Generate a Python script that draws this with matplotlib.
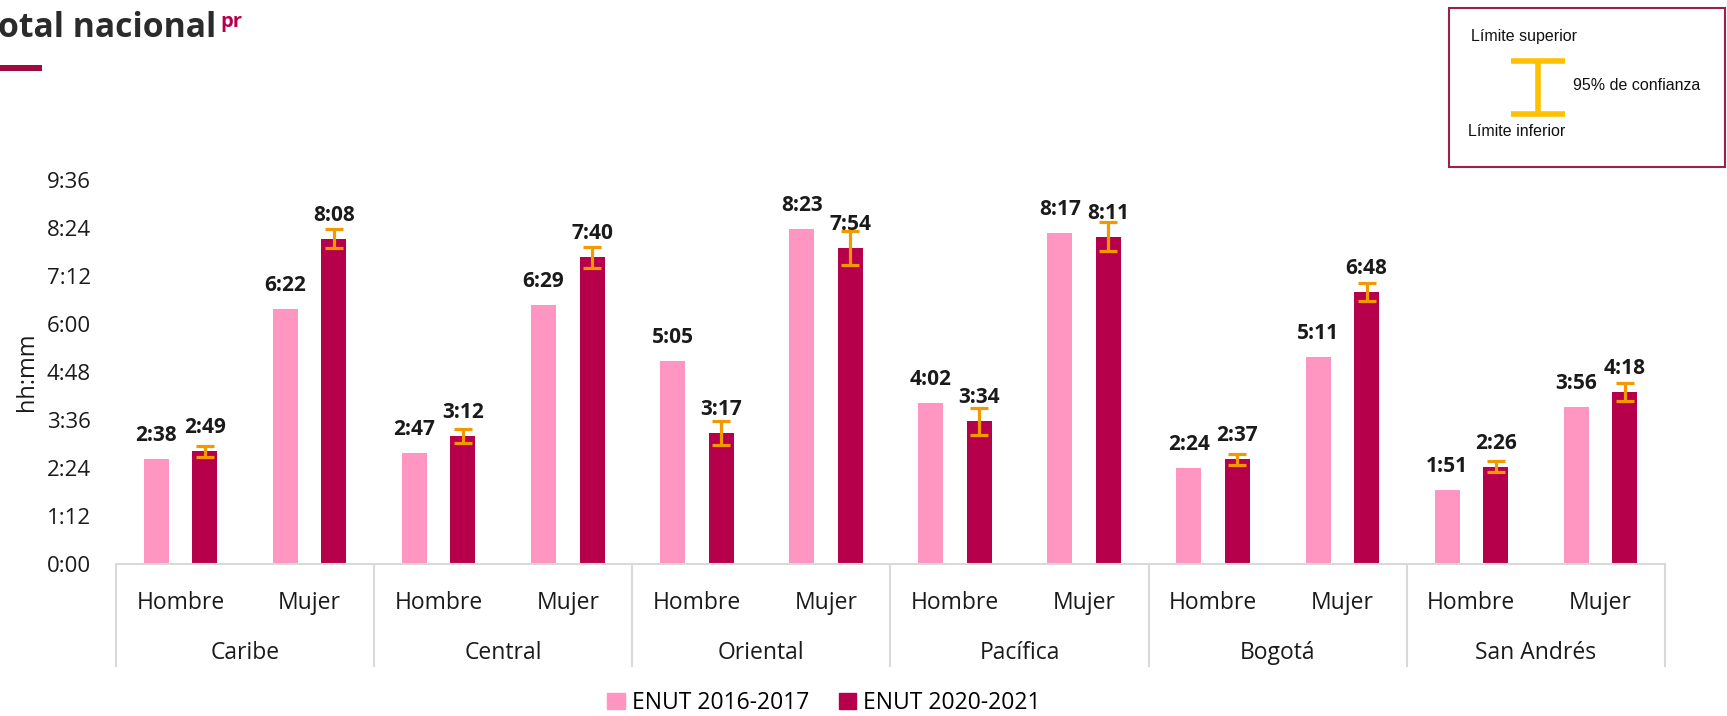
import matplotlib
matplotlib.use("Agg")
import matplotlib.pyplot as plt
import matplotlib.transforms as mtransforms
from matplotlib.patches import Rectangle, Patch
from matplotlib.lines import Line2D

plt.rcParams["font.family"] = ["Open Sans", "DejaVu Sans"]

# data (minutes per day)
regions = ["Caribe", "Central", "Oriental", "Pacífica", "Bogotá", "San Andrés"]
sexes = ["Hombre", "Mujer"]
enut_2016 = [158, 382, 167, 389, 305, 503, 242, 497, 144, 311, 111, 236]
enut_2020 = [169, 488, 192, 460, 197, 474, 214, 491, 157, 408, 146, 258]
err_2020 = [8, 14, 10, 16, 18, 25, 20, 22, 8, 14, 8, 14]
series_names = ["ENUT 2016-2017", "ENUT 2020-2021"]
yticks = [0, 72, 144, 216, 288, 360, 432, 504, 576]

PINK = "#FF96C2"
CRIMSON = "#B7004C"
ORANGE = "#F29900"
GRID = "#D9D9D9"
TXT = "#1a1a1a"


def hhmm(m):
    return "%d:%02d" % (m // 60, m % 60)


fig = plt.figure(figsize=(17.27, 7.16), dpi=100)
ax = fig.add_axes([116 / 1727, 1 - 564 / 716, (1665 - 116) / 1727, 384 / 716])

n = len(enut_2016)
xs = [i + 0.5 for i in range(n)]
off = 0.188
w = 0.194
x1 = [x - off for x in xs]
x2 = [x + off for x in xs]

ax.bar(x1, enut_2016, width=w, color=PINK, zorder=2)
ax.bar(x2, enut_2020, width=w, color=CRIMSON, zorder=2)
ax.errorbar(x2, enut_2020, yerr=err_2020, fmt="none", ecolor=ORANGE,
            elinewidth=2.3, capsize=6.5, capthick=2.3, zorder=3)

for x, v in zip(x1, enut_2016):
    ax.annotate(hhmm(v), (x, v), xytext=(0, 17), textcoords="offset points",
                ha="center", va="center", fontsize=15, fontweight="bold", color=TXT)
for x, v in zip(x2, enut_2020):
    ax.annotate(hhmm(v), (x, v), xytext=(0, 17), textcoords="offset points",
                ha="center", va="center", fontsize=15, fontweight="bold", color=TXT)

ax.set_xlim(0, n)
ax.set_ylim(0, 576)
ax.set_yticks(yticks)
ax.set_yticklabels([hhmm(t) for t in yticks], fontsize=16, color=TXT)
ax.tick_params(axis="y", length=0, pad=18)
ax.set_xticks([])
ax.set_ylabel("hh:mm", fontsize=17, color=TXT, labelpad=6)

for s in ["top", "right", "left"]:
    ax.spines[s].set_visible(False)
ax.spines["bottom"].set_color(GRID)
ax.spines["bottom"].set_linewidth(1.5)

# two-level category axis
trans = mtransforms.blended_transform_factory(ax.transData, ax.transAxes)
for k in range(len(regions) + 1):
    ax.plot([2 * k, 2 * k], [0, -0.266], transform=trans, color=GRID,
            lw=1.5, clip_on=False)
for i, x in enumerate(xs):
    ax.text(x, -0.102, sexes[i % 2], transform=trans, ha="center", va="center",
            fontsize=16.5, color=TXT)
for k, r in enumerate(regions):
    ax.text(2 * k + 1, -0.232, r, transform=trans, ha="center", va="center",
            fontsize=16.5, color=TXT)

handles = [Patch(color=PINK, label=series_names[0]),
           Patch(color=CRIMSON, label=series_names[1])]
fig.legend(handles=handles, loc="center", bbox_to_anchor=(0.477, 1 - 703 / 716),
           ncol=2, frameon=False, fontsize=16.5, handlelength=0.75,
           handleheight=0.75, handletextpad=0.3, columnspacing=1.3)

# title fragment
fig.text(-0.001, 1 - 37 / 716, "otal nacional", fontsize=24.3, fontweight="bold",
         color="#2b2b2b", ha="left", va="baseline")
fig.text(220 / 1727, 1 - 27 / 716, "pr", fontsize=14.5, fontweight="bold",
         color=CRIMSON, ha="left", va="baseline")
fig.add_artist(Rectangle((0, 1 - 71 / 716), 42 / 1727, 6 / 716,
                         transform=fig.transFigure, color="#9E0B41", lw=0))

# confidence interval key box
fig.add_artist(Rectangle((1449 / 1727, 1 - 167 / 716), 276 / 1727, 159 / 716,
                         transform=fig.transFigure, facecolor="white",
                         edgecolor="#9B2247", lw=1.5))
kf = dict(family=["Liberation Sans", "DejaVu Sans"], fontsize=11.5, color="#111111")
fig.text(1471 / 1727, 1 - 37 / 716, "Límite superior", ha="left", va="center", **kf)
fig.text(1468 / 1727, 1 - 132 / 716, "Límite inferior", ha="left", va="center", **kf)
fig.text(1573 / 1727, 1 - 85 / 716, "95% de confianza", ha="left", va="center", **kf)
YEL = "#FFC000"
for (xa, ya, xb, yb) in [(1511, 61, 1565, 61), (1511, 114, 1565, 114),
                         (1538, 61, 1538, 114)]:
    fig.add_artist(Line2D([xa / 1727, xb / 1727], [1 - ya / 716, 1 - yb / 716],
                          transform=fig.transFigure, color=YEL, lw=4,
                          solid_capstyle="butt"))

fig.savefig("out.png", dpi=100)
plt.close(fig)
